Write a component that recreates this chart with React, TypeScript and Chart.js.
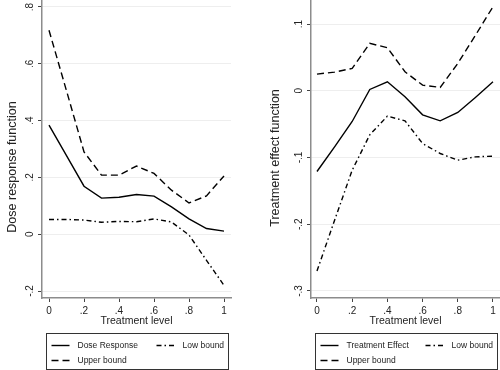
import React, { useEffect, useRef } from "react";
import { Chart, registerables } from "chart.js";

Chart.register(...registerables);

// ---------- data ----------
const treatmentLevels = [0, 0.1, 0.2, 0.3, 0.4, 0.5, 0.6, 0.7, 0.8, 0.9, 1];

const doseResponse = [0.384, 0.277, 0.169, 0.127, 0.13, 0.14, 0.134, 0.096, 0.054, 0.02, 0.011];
const doseLowBound = [0.052, 0.052, 0.05, 0.042, 0.045, 0.044, 0.054, 0.043, -0.003, -0.092, -0.18];
const doseUpperBound = [0.718, 0.505, 0.29, 0.208, 0.208, 0.24, 0.214, 0.155, 0.11, 0.135, 0.205];

const treatmentEffect = [-0.121, -0.084, -0.046, 0.002, 0.0135, -0.009, -0.036, -0.045, -0.0325, -0.01, 0.0135];
const effectLowBound = [-0.27, -0.194, -0.119, -0.066, -0.038, -0.045, -0.079, -0.094, -0.104, -0.099, -0.098];
const effectUpperBound = [0.025, 0.028, 0.0335, 0.071, 0.0645, 0.0285, 0.0085, 0.005, 0.041, 0.083, 0.126];

const xTickValues = [0, 0.2, 0.4, 0.6, 0.8, 1];
const xTickLabels = ["0", ".2", ".4", ".6", ".8", "1"];
const doseTickValues = [-0.2, 0, 0.2, 0.4, 0.6, 0.8];
const doseTickLabels = ["-.2", "0", ".2", ".4", ".6", ".8"];
const effectTickValues = [-0.3, -0.2, -0.1, 0, 0.1];
const effectTickLabels = ["-.3", "-.2", "-.1", "0", ".1"];

const FONT = "'Liberation Sans', Arial, Helvetica, sans-serif";
const TEXT = "#222222";

// ---------- plugins ----------
const boxLegend = {
  id: "boxLegend",
  afterDraw(chart: any, _args: any, opts: any) {
    const { ctx, chartArea } = chart;
    const cx = (chartArea.left + chartArea.right) / 2;
    const left = Math.round(cx - opts.width / 2) + 0.5;
    const top = opts.top + 0.5;
    ctx.save();
    ctx.strokeStyle = "#333333";
    ctx.lineWidth = 1;
    ctx.setLineDash([]);
    ctx.strokeRect(left, top, opts.width, opts.height);
    chart.data.datasets.forEach((ds: any, i: number) => {
      const col = i % 2;
      const row = Math.floor(i / 2);
      const x0 = left + (col ? opts.col2 : opts.col1);
      const y = Math.round(top + (row ? opts.row2 : opts.row1)) + 0.5;
      ctx.setLineDash(ds.borderDash || []);
      ctx.lineWidth = ds.borderWidth;
      ctx.strokeStyle = ds.borderColor;
      ctx.beginPath();
      ctx.moveTo(x0, y);
      ctx.lineTo(x0 + opts.sample, y);
      ctx.stroke();
      ctx.setLineDash([]);
      ctx.fillStyle = TEXT;
      ctx.font = `${opts.fontSize}px ${FONT}`;
      ctx.textAlign = "left";
      ctx.textBaseline = "middle";
      ctx.fillText(ds.label, x0 + opts.textGap, y);
    });
    ctx.restore();
  },
};

const yTitlePlugin = {
  id: "yTitle",
  afterDraw(chart: any, _args: any, opts: any) {
    const { ctx } = chart;
    ctx.save();
    ctx.translate(opts.x, opts.y);
    ctx.rotate(-Math.PI / 2);
    ctx.font = `${opts.fontSize}px ${FONT}`;
    ctx.fillStyle = TEXT;
    ctx.textAlign = "center";
    ctx.textBaseline = "middle";
    ctx.fillText(opts.text, 0, 0);
    ctx.restore();
  },
};

function labelFor(values: number[], labels: string[], v: number) {
  const i = values.findIndex((t) => Math.abs(t - v) < 1e-9);
  return i >= 0 ? labels[i] : "";
}

type PanelSpec = {
  mainLabel: string;
  main: number[];
  low: number[];
  upper: number[];
  yMin: number;
  yMax: number;
  xMin: number;
  xMax: number;
  yTicks: number[];
  yTickLabels: string[];
  yTitle: string;
  yTitleX: number;
  yTitleY: number;
  yAxisWidth: number;
  rightPad: number;
};

function makeConfig(p: PanelSpec): any {
  const pts = (arr: number[]) => treatmentLevels.map((x, i) => ({ x, y: arr[i] }));
  const base = { borderColor: "#000000", borderWidth: 1.4, pointRadius: 0, tension: 0, fill: false };
  return {
    type: "line",
    data: {
      datasets: [
        { ...base, label: p.mainLabel, data: pts(p.main), borderDash: [] },
        { ...base, label: "Low bound", data: pts(p.low), borderDash: [5, 3, 1.5, 3] },
        { ...base, label: "Upper bound", data: pts(p.upper), borderDash: [7, 4] },
      ],
    },
    options: {
      responsive: false,
      animation: false,
      layout: { padding: { left: 0, right: p.rightPad, top: 0, bottom: 38 } },
      plugins: {
        legend: { display: false },
        tooltip: { enabled: false },
        boxLegend: {
          width: 182,
          height: 36,
          top: 333,
          row1: 11,
          row2: 26,
          col1: 5,
          col2: 110,
          sample: 18,
          textGap: 26,
          fontSize: 8.5,
        },
        yTitle: { text: p.yTitle, x: p.yTitleX, y: p.yTitleY, fontSize: 12.5 },
      },
      scales: {
        x: {
          type: "linear",
          min: p.xMin,
          max: p.xMax,
          afterBuildTicks: (s: any) => {
            s.ticks = xTickValues.map((value) => ({ value }));
          },
          afterFit: (s: any) => {
            s.height = 34;
            s.paddingLeft = 0;
            s.paddingRight = 0;
          },
          ticks: {
            autoSkip: false,
            maxRotation: 0,
            padding: 3,
            color: TEXT,
            font: { size: 10, family: FONT },
            callback: (v: number) => labelFor(xTickValues, xTickLabels, v),
          },
          grid: { drawOnChartArea: false, drawTicks: true, tickLength: 4, tickColor: "#444444", tickWidth: 1 },
          border: { display: true, color: "#8c8c8c", width: 1.5 },
          title: {
            display: true,
            text: "Treatment level",
            color: TEXT,
            font: { size: 10.5, family: FONT },
            padding: { top: 0, bottom: 5 },
          },
        },
        y: {
          type: "linear",
          min: p.yMin,
          max: p.yMax,
          afterBuildTicks: (s: any) => {
            s.ticks = p.yTicks.map((value) => ({ value }));
          },
          afterFit: (s: any) => {
            s.width = p.yAxisWidth;
            s.paddingTop = 0;
            s.paddingBottom = 0;
          },
          ticks: {
            autoSkip: false,
            minRotation: 90,
            maxRotation: 90,
            crossAlign: "center",
            padding: 2,
            color: TEXT,
            font: { size: 10, family: FONT },
            callback: (v: number) => labelFor(p.yTicks, p.yTickLabels, v),
          },
          grid: {
            drawOnChartArea: true,
            color: "#eeeeee",
            lineWidth: 1,
            drawTicks: true,
            tickLength: 4,
            tickColor: "#444444",
            tickWidth: 1,
          },
          border: { display: true, color: "#8c8c8c", width: 1.5 },
          title: { display: false },
        },
      },
    },
    plugins: [boxLegend, yTitlePlugin],
  };
}

const leftSpec: PanelSpec = {
  mainLabel: "Dose Response",
  main: doseResponse,
  low: doseLowBound,
  upper: doseUpperBound,
  yMin: -0.2246,
  yMax: 0.8246,
  xMin: -0.04,
  xMax: 1.04,
  yTicks: doseTickValues,
  yTickLabels: doseTickLabels,
  yTitle: "Dose response function",
  yTitleX: 13,
  yTitleY: 167,
  yAxisWidth: 42,
  rightPad: 19,
};

const rightSpec: PanelSpec = {
  mainLabel: "Treatment Effect",
  main: treatmentEffect,
  low: effectLowBound,
  upper: effectUpperBound,
  yMin: -0.3105,
  yMax: 0.136,
  xMin: -0.034,
  xMax: 1.0398,
  yTicks: effectTickValues,
  yTickLabels: effectTickLabels,
  yTitle: "Treatment effect function",
  yTitleX: 25.5,
  yTitleY: 158,
  yAxisWidth: 61,
  rightPad: 0,
};

function Panel({ spec }: { spec: PanelSpec }) {
  const ref = useRef<HTMLCanvasElement | null>(null);
  useEffect(() => {
    if (!ref.current) return;
    const chart = new Chart(ref.current, makeConfig(spec));
    return () => chart.destroy();
  }, [spec]);
  return (
    <div style={{ width: 250, height: 370, position: "relative" }}>
      <canvas ref={ref} width={250} height={370} style={{ display: "block", width: 250, height: 370 }} />
    </div>
  );
}

export default function App() {
  useEffect(() => {
    document.body.style.margin = "0";
    document.body.style.background = "#ffffff";
  }, []);
  return (
    <div style={{ position: "absolute", left: 0, top: 0, width: 500, height: 370, display: "flex", background: "#ffffff" }}>
      <Panel spec={leftSpec} />
      <Panel spec={rightSpec} />
    </div>
  );
}
